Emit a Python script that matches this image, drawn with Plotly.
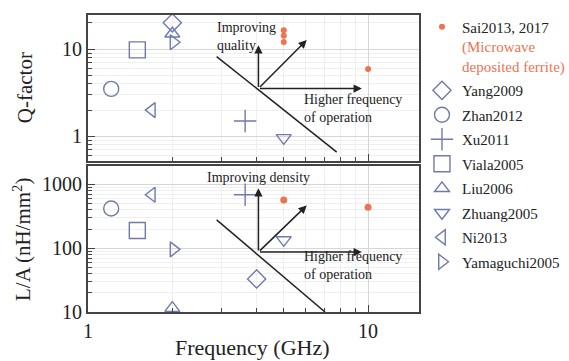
import math
import plotly.graph_objects as go

# ---- data ----
# Q-factor panel
q_sai_f = [5.0, 5.0, 5.0, 10.0]
q_sai_v = [16.5, 14.2, 12.1, 5.9]
q_yang = ([2.0], [20.0])
q_zhan = ([1.21], [3.5])
q_xu = ([3.64], [1.5])
q_viala = ([1.5], [9.8])
q_liu = ([2.0], [15.0])
q_zhuang = ([5.0], [0.96])
q_ni = ([1.69], [2.0])
q_yama = ([2.02], [12.0])

# L/A panel
la_sai_f = [5.0, 10.0]
la_sai_v = [570, 440]
la_yang = ([4.0], [33.0])
la_zhan = ([1.21], [420])
la_xu = ([3.64], [690])
la_viala = ([1.5], [190])
la_liu = ([2.0], [11.5])
la_zhuang = ([5.0], [135])
la_ni = ([1.69], [690])
la_yama = ([2.02], [96])

names = ["Yang2009", "Zhan2012", "Xu2011", "Viala2005", "Liu2006",
         "Zhuang2005", "Ni2013", "Yamaguchi2005"]
symbols = ["diamond-open", "circle-open", "cross-thin-open", "square-open",
           "triangle-up-open", "triangle-down-open", "triangle-left-open",
           "triangle-right-open"]
sizes = [14, 15, 16, 16, 13, 13, 13, 13]
q_data = [q_yang, q_zhan, q_xu, q_viala, q_liu, q_zhuang, q_ni, q_yama]
la_data = [la_yang, la_zhan, la_xu, la_viala, la_liu, la_zhuang, la_ni, la_yama]

# guide annotations (data coords): [x0, y0, x1, y1]
q_line = [2.88, 8.2, 7.73, 0.66]
q_origin = [4.06, 3.53]
q_up_end = [4.06, 11.1]
q_diag_end = [6.04, 12.7]
q_right_end = [9.5, 3.53]

la_line = [2.88, 278, 7.02, 10]
la_origin = [4.06, 87]
la_up_end = [4.06, 870]
la_diag_end = [6.04, 470]
la_right_end = [9.5, 87]

x_minor = [2, 3, 4, 5, 6, 7, 8, 9]
q_minor = [0.6, 0.7, 0.8, 0.9, 2, 3, 4, 5, 6, 7, 8, 9, 20]
la_minor = [20, 30, 40, 50, 60, 70, 80, 90, 200, 300, 400, 500, 600, 700, 800, 900]

MARK = "#6f7ba8"
SAI = "#ef7350"
FONT = "Liberation Serif"

fig = go.Figure()

sai_name = ("Sai2013, 2017<br><span style='color:#ef7350'>(Microwave<br>"
            "deposited ferrite)</span>")
fig.add_trace(go.Scatter(x=q_sai_f, y=q_sai_v, mode="markers", name=sai_name,
                         marker=dict(symbol="circle", size=6, color=SAI),
                         xaxis="x", yaxis="y", legendgroup="sai"))
fig.add_trace(go.Scatter(x=la_sai_f, y=la_sai_v, mode="markers", name=sai_name,
                         marker=dict(symbol="circle", size=7, color=SAI),
                         xaxis="x2", yaxis="y2", legendgroup="sai", showlegend=False))

for n, s, sz, qd, ld in zip(names, symbols, sizes, q_data, la_data):
    mk = dict(symbol=s, size=sz, color=MARK, line=dict(color=MARK, width=1.4))
    fig.add_trace(go.Scatter(x=qd[0], y=qd[1], mode="markers", name=n, marker=mk,
                             xaxis="x", yaxis="y", legendgroup=n))
    fig.add_trace(go.Scatter(x=ld[0], y=ld[1], mode="markers", name=n, marker=mk,
                             xaxis="x2", yaxis="y2", legendgroup=n, showlegend=False))

L = math.log10

def arrow(xr, yr, x0, y0, x1, y1):
    fig.add_annotation(x=L(x1), y=L(y1), ax=L(x0), ay=L(y0), xref=xr, yref=yr,
                       axref=xr, ayref=yr, showarrow=True, arrowhead=2,
                       arrowsize=1.1, arrowwidth=1.5, arrowcolor="#222", text="")

def seg(xr, yr, x0, y0, x1, y1):
    fig.add_shape(type="line", xref=xr, yref=yr, x0=x0, y0=y0, x1=x1, y1=y1,
                  line=dict(color="#222", width=1.5))

# top panel guides
seg("x", "y", *q_line)
arrow("x", "y", *q_origin, *q_up_end)
arrow("x", "y", *q_origin, *q_diag_end)
arrow("x", "y", *q_origin, *q_right_end)
# bottom panel guides
seg("x2", "y2", *la_line)
arrow("x2", "y2", *la_origin, *la_up_end)
arrow("x2", "y2", *la_origin, *la_diag_end)
arrow("x2", "y2", *la_origin, *la_right_end)

tf = dict(family=FONT, size=14, color="#222")
fig.add_annotation(x=L(2.85), y=L(13.9), xref="x", yref="y", text="Improving<br>quality",
                   showarrow=False, xanchor="left", yanchor="middle", align="left", font=tf)
fig.add_annotation(x=L(5.8), y=L(2.1), xref="x", yref="y",
                   text="Higher frequency<br>of operation", showarrow=False,
                   xanchor="left", yanchor="middle", align="left", font=tf)
fig.add_annotation(x=L(4.06), y=L(1300), xref="x2", yref="y2", text="Improving density",
                   showarrow=False, xanchor="center", yanchor="middle", font=tf)
fig.add_annotation(x=L(5.8), y=L(54), xref="x2", yref="y2",
                   text="Higher frequency<br>of operation", showarrow=False,
                   xanchor="left", yanchor="middle", align="left", font=tf)

# axis titles
fig.add_annotation(x=-0.19, y=0.754, xref="paper", yref="paper", text="Q-factor",
                   textangle=-90, showarrow=False, xanchor="center", yanchor="middle",
                   font=dict(family=FONT, size=21, color="#222"))
fig.add_annotation(x=-0.2, y=0.245, xref="paper", yref="paper",
                   text="L/A (nH/mm<sup>2</sup>)", textangle=-90, showarrow=False,
                   xanchor="center", yanchor="middle",
                   font=dict(family=FONT, size=21, color="#222"))
fig.add_annotation(x=0.496, y=-0.121, xref="paper", yref="paper", text="Frequency (GHz)",
                   showarrow=False, xanchor="center", yanchor="middle",
                   font=dict(family=FONT, size=22, color="#222"))

def axis(minor_vals):
    return dict(type="log", showline=True, linecolor="#444", linewidth=2,
                mirror=True, ticks="inside", ticklen=7, tickcolor="#444",
                showgrid=True, gridcolor="#d6d6d6", gridwidth=1, zeroline=False,
                tickfont=dict(family=FONT, size=20, color="#222"),
                minor=dict(tickvals=minor_vals, ticks="inside", ticklen=4,
                           tickcolor="#444", showgrid=True, gridcolor="#efefef"))

fig.update_layout(
    width=569, height=361,
    margin=dict(l=88, r=150, t=15, b=49, autoexpand=False),
    plot_bgcolor="white", paper_bgcolor="white",
    font=dict(family=FONT, color="#222"),
    xaxis=dict(axis(x_minor), range=[0, L(15.2)], domain=[0, 1], anchor="y",
               showticklabels=False, tickvals=[1, 10]),
    yaxis=dict(axis(q_minor), range=[L(0.52), L(24.6)], domain=[0.508, 1], anchor="x",
               tickvals=[1, 10], ticktext=["1", "10"]),
    xaxis2=dict(axis(x_minor), range=[0, L(15.2)], domain=[0, 1], anchor="y2",
                tickvals=[1, 10], ticktext=["1", "10"]),
    yaxis2=dict(axis(la_minor), range=[1, L(1950)], domain=[0, 0.4916], anchor="x2",
                tickvals=[10, 100, 1000], ticktext=["10", "100", "1000"]),
    legend=dict(x=1.009, y=1.015, xanchor="left", yanchor="top", valign="top",
                font=dict(family=FONT, size=15, color="#222"), bgcolor="rgba(0,0,0,0)",
                tracegroupgap=2, itemwidth=30, maxheight=355),
    showlegend=True,
)

fig.write_html("out.html")
